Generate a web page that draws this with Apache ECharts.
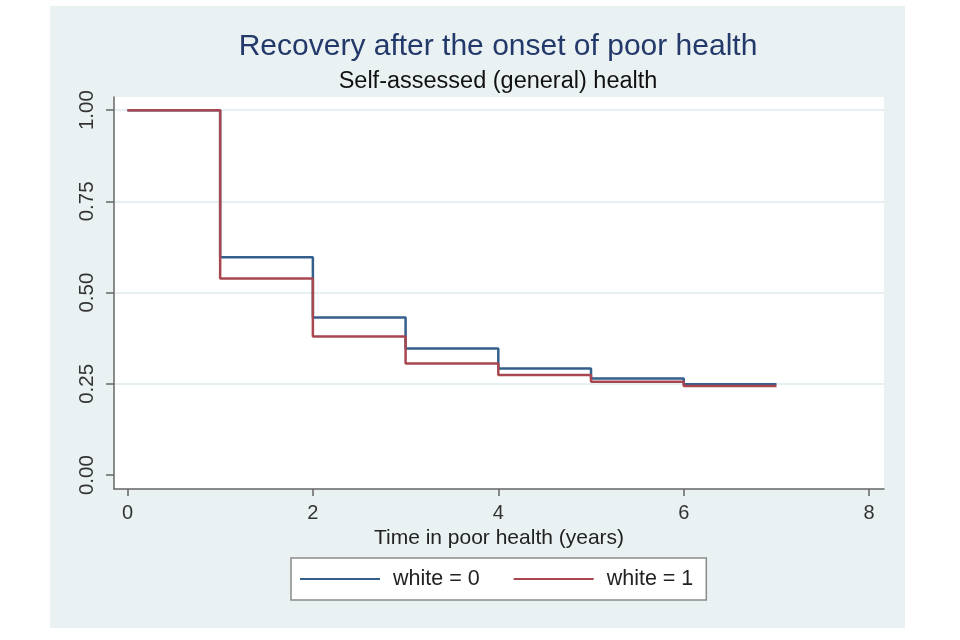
<!DOCTYPE html>
<html><head><meta charset="utf-8">
<script src="https://cdn.jsdelivr.net/npm/echarts@6/dist/echarts.min.js"></script>
<style>
html,body{margin:0;padding:0;background:#fff}
#panel{position:absolute;left:50px;top:6px;width:855px;height:622px;background:#eaf1f3}
#c{position:absolute;left:0;top:0;width:960px;height:640px}
</style>
</head><body>
<div id="panel"></div>
<div id="c"></div>
<script>
const years = [0, 1, 2, 3, 4, 5, 6, 7];
const white0 = [1.000, 0.597, 0.432, 0.347, 0.292, 0.265, 0.249, 0.249];
const white1 = [1.000, 0.539, 0.380, 0.306, 0.274, 0.256, 0.244, 0.244];
const xTicks = [0, 2, 4, 6, 8];
const yTicks = [0, 0.25, 0.5, 0.75, 1];
const seriesNames = ['white = 0', 'white = 1'];

const FONT = '"Liberation Sans", Arial, Helvetica, sans-serif';
const chart = echarts.init(document.getElementById('c'), null, {renderer: 'canvas'});

chart.setOption({
  backgroundColor: 'transparent',
  animation: false,
  textStyle: {fontFamily: FONT},
  title: [
    {text: 'Recovery after the onset of poor health', left: 493, top: 27, textAlign: 'center',
     textStyle: {fontFamily: FONT, fontSize: 30, fontWeight: 'normal', color: '#23396a'}},
    {text: 'Self-assessed (general) health', left: 493, top: 65, textAlign: 'center',
     textStyle: {fontFamily: FONT, fontSize: 23.5, fontWeight: 'normal', color: '#111'}}
  ],
  legend: {
    data: seriesNames,
    left: 291, top: 558,
    orient: 'horizontal',
    padding: [10, 13, 10, 9],
    backgroundColor: '#fff',
    borderColor: '#8a8a8a',
    borderWidth: 1.5,
    borderRadius: 0,
    icon: 'rect',
    itemWidth: 80,
    itemHeight: 2,
    itemGap: 34,
    textStyle: {fontFamily: FONT, fontSize: 21.5, color: '#222', padding: [0, 0, 0, 8]}
  },
  grid: [
    {left: 114, right: 76, top: 97, bottom: 151, show: true, backgroundColor: '#fff', borderWidth: 0},
    {left: 114, right: 76, top: 110, bottom: 256.25, show: false}
  ],
  xAxis: [
    {type: 'value', gridIndex: 0, min: -0.145, max: 8.16,
     axisLine: {show: true, onZero: false, lineStyle: {color: '#666', width: 1.5}},
     axisTick: {show: true, length: 7, customValues: xTicks, lineStyle: {color: '#666', width: 1.5}},
     axisLabel: {customValues: xTicks, fontSize: 20, color: '#333', margin: 14, fontFamily: FONT},
     splitLine: {show: false},
     name: 'Time in poor health (years)', nameLocation: 'middle', nameGap: 37,
     nameTextStyle: {fontSize: 21, color: '#222', fontFamily: FONT}},
    {type: 'value', gridIndex: 1, min: 0, max: 1,
     axisLine: {show: false}, axisTick: {show: false}, axisLabel: {show: false}, splitLine: {show: false}}
  ],
  yAxis: [
    {type: 'value', gridIndex: 0, min: -0.038, max: 1.036,
     axisLine: {show: true, onZero: false, lineStyle: {color: '#666', width: 1.5}},
     axisTick: {show: true, length: 8, customValues: yTicks, lineStyle: {color: '#666', width: 1.5}},
     axisLabel: {customValues: yTicks, rotate: 90, fontSize: 20.5, color: '#333', margin: 16,
                 fontFamily: FONT, formatter: v => Number(v).toFixed(2)},
     splitLine: {show: false}},
    {type: 'value', gridIndex: 1, min: 0.25, max: 1, interval: 0.25,
     axisLine: {show: false}, axisTick: {show: false}, axisLabel: {show: false},
     splitLine: {show: true, lineStyle: {color: '#e6eff1', width: 2}}}
  ],
  series: [
    {name: seriesNames[0], type: 'line', step: 'end', xAxisIndex: 0, yAxisIndex: 0,
     data: years.map((t, i) => [t, white0[i]]), showSymbol: false, symbol: 'none',
     lineStyle: {color: '#345e8b', width: 2.5}, itemStyle: {color: '#345e8b'}, z: 3},
    {name: seriesNames[1], type: 'line', step: 'end', xAxisIndex: 0, yAxisIndex: 0,
     data: years.map((t, i) => [t, white1[i]]), showSymbol: false, symbol: 'none',
     lineStyle: {color: '#a8474f', width: 2.5}, itemStyle: {color: '#a8474f'}, z: 4}
  ]
});
</script>
</body></html>
